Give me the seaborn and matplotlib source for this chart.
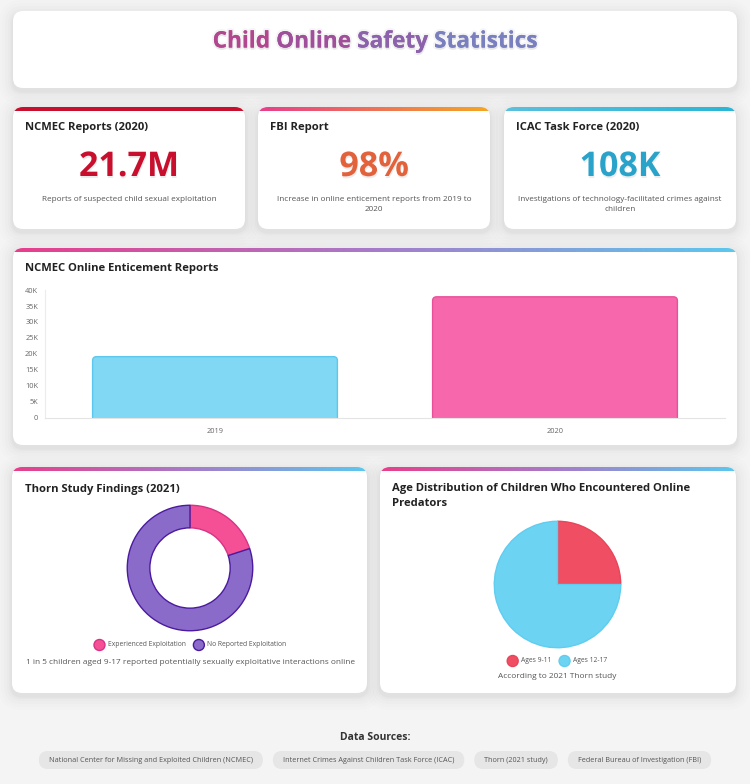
import numpy as np
import pandas as pd
import matplotlib
matplotlib.use("Agg")
import matplotlib.pyplot as plt
import seaborn as sns
from matplotlib.patches import FancyBboxPatch, Circle
from matplotlib.colors import LinearSegmentedColormap
from matplotlib.ticker import FuncFormatter, MultipleLocator
import matplotlib.patheffects as pe

# ---------------- data ----------------
main_title = "Child Online Safety Statistics"
stat_titles = ["NCMEC Reports (2020)", "FBI Report", "ICAC Task Force (2020)"]
stat_values = ["21.7M", "98%", "108K"]
stat_descs = [
    "Reports of suspected child sexual exploitation",
    "Increase in online enticement reports from 2019 to\n2020",
    "Investigations of technology-facilitated crimes against\nchildren",
]
bar_title = "NCMEC Online Enticement Reports"
bar_years = ["2019", "2020"]
bar_reports = [19174, 37872]
thorn_title = "Thorn Study Findings (2021)"
thorn_labels = ["Experienced Exploitation", "No Reported Exploitation"]
thorn_values = [20, 80]
thorn_caption = "1 in 5 children aged 9-17 reported potentially sexually exploitative interactions online"
age_title = "Age Distribution of Children Who Encountered Online\nPredators"
age_labels = ["Ages 9-11", "Ages 12-17"]
age_values = [25, 75]
age_caption = "According to 2021 Thorn study"
sources_title = "Data Sources:"
sources = [
    "National Center for Missing and Exploited Children (NCMEC)",
    "Internet Crimes Against Children Task Force (ICAC)",
    "Thorn (2021 study)",
    "Federal Bureau of Investigation (FBI)",
]

# ---------------- style ----------------
sns.set_theme(style="white")
plt.rcParams["font.family"] = ["Open Sans", "DejaVu Sans"]

W, H = 750, 784
BG = "#f4f4f4"
fig = plt.figure(figsize=(W / 100, H / 100), dpi=100)
fig.patch.set_facecolor(BG)

bg = fig.add_axes([0, 0, 1, 1])
bg.set_xlim(0, W)
bg.set_ylim(H, 0)
bg.axis("off")
renderer = fig.canvas.get_renderer()


def px_axes(x0, y0, x1, y1):
    a = fig.add_axes([x0 / W, 1 - y1 / H, (x1 - x0) / W, (y1 - y0) / H])
    a.patch.set_alpha(0)
    return a


def text_w(s, **kw):
    t = bg.text(0, 0, s, **kw)
    bb = t.get_window_extent(renderer)
    t.remove()
    return bb.width


GRAD_MAIN = ["#e83e8c", "#a77bca", "#5bc8ee"]
SOFT = [pe.SimplePatchShadow(offset=(0.5, -1.5), shadow_rgbFace="#000000", alpha=0.07), pe.Normal()]


def card(x0, y0, x1, y1, top=None, r=10):
    w, h = x1 - x0, y1 - y0
    for s, a in [(14, 0.006), (11, 0.008), (8, 0.010), (5, 0.012), (3, 0.014), (1.5, 0.018)]:
        bg.add_patch(FancyBboxPatch((x0 - s, y0 - s + 3), w + 2 * s, h + 2 * s,
                                    boxstyle=f"round,pad=0,rounding_size={r + s}",
                                    fc="black", ec="none", alpha=a, zorder=1))
    p = FancyBboxPatch((x0, y0), w, h, boxstyle=f"round,pad=0,rounding_size={r}",
                       fc="white", ec="none", zorder=2)
    bg.add_patch(p)
    if top is not None:
        cmap = LinearSegmentedColormap.from_list("g", top)
        im = bg.imshow(np.linspace(0, 1, 256)[None, :], cmap=cmap, aspect="auto",
                       extent=(x0, x1, y0 + 3.5, y0), interpolation="bilinear", zorder=3)
        im.set_clip_path(p)
    return p


# ---------------- header ----------------
card(13, 11, 737, 88)
words = main_title.split(" ")
word_cols = ["#b2468f", "#a0509a", "#8d62ac", "#7a80bf"]
tkw = dict(fontsize=16.3, fontweight="bold")
total = text_w(main_title, **tkw)
xs = W / 2 - total / 2
for i, wd in enumerate(words):
    pre = " ".join(words[: i + 1])
    xw = xs + text_w(pre, **tkw) - text_w(wd, **tkw)
    bg.text(xw, 41.5, wd, color=word_cols[i], ha="left", va="center", zorder=5,
            path_effects=[pe.withStroke(linewidth=3, foreground="#000000", alpha=0.04),
                          pe.SimplePatchShadow(offset=(0.3, -1.5), shadow_rgbFace="#000000", alpha=0.06),
                          pe.Normal()],
            **tkw)

# ---------------- stat cards ----------------
stat_boxes = [(13, 245), (258, 490), (504, 736)]
stat_tops = [["#c8102e", "#c8102e"], ["#e83e8c", "#f5a623"], ["#5bc0de", "#29b6d6"]]
stat_cols = ["#c8102e", "#e2623c", "#29a3c9"]
for (x0, x1), ttl, val, desc, tp, col in zip(stat_boxes, stat_titles, stat_values, stat_descs, stat_tops, stat_cols):
    card(x0, 107, x1, 229, top=tp)
    bg.text(x0 + 12, 127, ttl, fontsize=8.1, fontweight="bold", color="#222222", ha="left", va="center", zorder=5)
    bg.text((x0 + x1) / 2, 167, val, fontsize=24.5, fontweight="bold", color=col, ha="center", va="center", zorder=5,
            path_effects=SOFT)
    bg.text((x0 + x1) / 2, 195.5, desc, fontsize=5.9, color="#555555", ha="center", va="top", zorder=5,
            linespacing=1.65)

# ---------------- bar chart ----------------
card(13, 248, 737, 445, top=GRAD_MAIN)
bg.text(25, 269, bar_title, fontsize=8.1, fontweight="bold", color="#222222", ha="left", va="center", zorder=5)
ax = px_axes(45, 290, 725, 418)
df = pd.DataFrame({"year": bar_years, "reports": bar_reports})
sns.barplot(data=df, x="year", y="reports", hue="year", palette=["#80d8f4", "#f767ac"],
            width=0.72, ax=ax, legend=False, saturation=1)
ax.set_ylim(0, 40000)
ax.set_xlim(-0.5, 1.5)
# rounded tops (Chart.js style border radius ~4px)
x_per_px = 2.0 / 680
y_per_px = 40000 / 128
rad = 4 * x_per_px
for patch, ec in zip(list(ax.patches), ["#5cc8ee", "#e8509a"]):
    bx, by = patch.get_x(), patch.get_y()
    bw, bh = patch.get_width(), patch.get_height()
    fc = patch.get_facecolor()
    patch.set_visible(False)
    ext = 8 * y_per_px
    rp = FancyBboxPatch((bx, by - ext), bw, bh + ext,
                        boxstyle=f"round,pad=0,rounding_size={rad}",
                        mutation_aspect=y_per_px / x_per_px,
                        fc=fc, ec=ec, lw=1, zorder=2)
    ax.add_patch(rp)
ax.yaxis.set_major_locator(MultipleLocator(5000))
ax.yaxis.set_major_formatter(FuncFormatter(lambda v, _: "0" if v == 0 else f"{int(v / 1000)}K"))
ax.tick_params(axis="both", labelsize=5.3, colors="#666666", length=0)
ax.tick_params(axis="y", pad=5)
ax.tick_params(axis="x", pad=7)
ax.set_xlabel("")
ax.set_ylabel("")
for s in ["top", "right"]:
    ax.spines[s].set_visible(False)
ax.spines["left"].set_color("#ececec")
ax.spines["bottom"].set_color("#e4e4e4")
for s in ["left", "bottom"]:
    ax.spines[s].set_linewidth(0.8)
    ax.spines[s].set_zorder(3)
ax.grid(False)


def legend_row(labels, fills, edges, cx, cy, size=4.9):
    r = 5.5
    gap = 2.5
    sep = 8
    widths = [text_w(l, fontsize=size) for l in labels]
    total_w = sum(2 * r + gap + w for w in widths) + sep * (len(labels) - 1)
    x = cx - total_w / 2
    for l, w, f, e in zip(labels, widths, fills, edges):
        bg.add_patch(Circle((x + r, cy), r, fc=f, ec=e, lw=1, zorder=5))
        bg.text(x + 2 * r + gap, cy, l, fontsize=size, color="#555555", ha="left", va="center", zorder=5)
        x += 2 * r + gap + w + sep


# ---------------- donut ----------------
card(12, 467, 367, 693, top=GRAD_MAIN)
bg.text(25, 489, thorn_title, fontsize=8.1, fontweight="bold", color="#222222", ha="left", va="center", zorder=5)
ax2 = px_axes(126, 504, 254, 632)
thorn_fill = ["#f54f96", "#8a6bca"]
thorn_edge = ["#d63384", "#4b1a9e"]
wedges, _ = ax2.pie(thorn_values, colors=thorn_fill, startangle=90, counterclock=False, radius=1,
                    wedgeprops=dict(width=0.36, linewidth=1))
for wdg, ec in zip(wedges, thorn_edge):
    wdg.set_edgecolor(ec)
ax2.set_xlim(-1.02, 1.02)
ax2.set_ylim(-1.02, 1.02)
legend_row(thorn_labels, thorn_fill, thorn_edge, 190, 645)
bg.text(190, 662, thorn_caption, fontsize=5.95, color="#555555", ha="center", va="center", zorder=5)

# ---------------- pie ----------------
card(380, 467, 736, 693, top=GRAD_MAIN)
bg.text(392, 496, age_title, fontsize=8.1, fontweight="bold", color="#222222", ha="left", va="center", zorder=5,
        linespacing=1.5)
ax3 = px_axes(493, 520, 622, 649)
age_fill = ["#f04e62", "#6dd3f2"]
age_edge = ["#e8455a", "#5fcdf0"]
wedges, _ = ax3.pie(age_values, colors=age_fill, startangle=90, counterclock=False, radius=1,
                    wedgeprops=dict(linewidth=1))
for wdg, ec in zip(wedges, age_edge):
    wdg.set_edgecolor(ec)
ax3.set_xlim(-1.02, 1.02)
ax3.set_ylim(-1.02, 1.02)
legend_row(age_labels, age_fill, age_edge, 557, 661)
bg.text(557, 677, age_caption, fontsize=5.95, color="#555555", ha="center", va="center", zorder=5)

# ---------------- sources ----------------
bg.text(W / 2, 738, sources_title, fontsize=7.5, fontweight="bold", color="#333333", ha="center", va="center", zorder=5)
ssize = 5.2
pad = 10
gap = 10
sw = [text_w(s, fontsize=ssize) + 2 * pad for s in sources]
x = W / 2 - (sum(sw) + gap * (len(sw) - 1)) / 2
for s, w in zip(sources, sw):
    bg.add_patch(FancyBboxPatch((x, 751), w, 18, boxstyle="round,pad=0,rounding_size=9",
                                fc="#e6e6e6", ec="none", zorder=2))
    bg.text(x + w / 2, 760, s, fontsize=ssize, color="#555555", ha="center", va="center", zorder=5)
    x += w + gap

bg.set_xlim(0, W)
bg.set_ylim(H, 0)
fig.savefig("out.png", dpi=100, facecolor=BG)
